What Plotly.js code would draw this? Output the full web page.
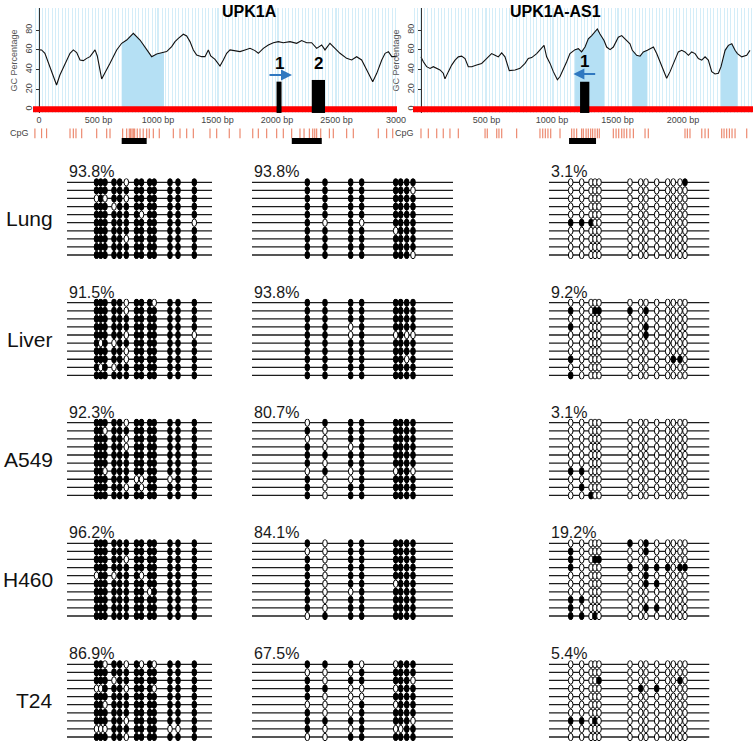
<!DOCTYPE html>
<html><head><meta charset="utf-8">
<script src="https://cdn.plot.ly/plotly-3.0.1.min.js"></script>
<style>html,body{margin:0;padding:0;background:#fff}#chart{width:753px;height:748px}</style>
</head><body><div id="chart"></div>
<script>
// ================= DATA =================
const geneTitles = ["UPK1A", "UPK1A-AS1"];

// GC percentage profile, UPK1A (bp, %)
const gcPosA = [0,22,50,92,120,148,176,218,261,289,317,345,373,401,429,471,490,527,563,597,653,695,737,793,849,905,947,989,1017,1050,1073,1115,1143,1171,1213,1241,1269,1297,1325,1367,1395,1423,1443,1479,1521,1549,1577,1605,1647,1689,1731,1773,1815,1843,1885,1927,1969,2011,2053,2109,2165,2207,2249,2291,2333,2375,2403,2445,2487,2529,2585,2627,2669,2711,2754,2804,2838,2880,2908,2936,2964,3006];
const gcValA = [60,59.9,56.5,43,33,24.5,34.6,44.7,56.5,59.9,57.2,49.8,49.1,51.4,53.1,59.9,53.8,30.6,38,46.4,59.9,66.6,69.9,76.7,69.9,59.9,53.1,55.8,56.5,57.5,58.2,63.2,68.3,71.6,75.7,74,68.3,59.9,54.8,53.1,53.1,59.9,53.8,50.4,43.7,49.8,56.5,59.9,58.8,58.2,59.9,61.5,59.2,56.5,61.5,64.9,67.2,68.3,67.2,68.3,66.6,69.3,67.2,67.2,61.5,64.9,59.9,66.6,61.5,56.5,51.4,49.8,53.1,49.8,39.7,27.9,36.3,49.8,56.5,58.2,53.1,53.1];
// GC percentage profile, UPK1A-AS1
const gcPosB = [0,18,43,69,94,120,145,170,183,209,234,260,285,310,336,361,387,425,463,489,514,539,565,590,616,641,674,718,756,794,819,845,883,908,939,959,985,1010,1041,1061,1086,1112,1137,1163,1176,1201,1226,1252,1277,1303,1328,1346,1366,1397,1417,1443,1468,1506,1532,1557,1595,1613,1646,1672,1697,1728,1774,1799,1824,1850,1875,1901,1926,1964,1990,2015,2041,2066,2092,2117,2143,2168,2193,2219,2244,2270,2290,2321,2346,2372,2397,2415,2448,2486,2511];
const gcValB = [52.9,47.9,43,41.3,43,41.3,39.7,36.4,30.7,38,44.6,49.6,52.9,53.6,51.2,43,43,44.6,46.3,49.6,52.9,56.2,54.5,52.9,56.9,52.9,39,39.7,41.3,46.3,51.2,52.2,56.2,59.5,64.5,52.9,46.3,38,29.8,33.1,39.7,47.9,56.2,59.5,60.2,61.2,57.9,62.8,71.1,74.4,77.7,81,76,69.4,62.8,60.2,62.8,72.7,74.4,71.1,66.1,59.5,54.5,53.6,57.9,59.5,62.8,56.2,47.9,39.7,31.4,38,46.3,57.9,59.5,57.9,54.5,57.9,56.2,51.2,49.6,52.9,49.6,38,35.7,36.4,43,59.5,64.5,66.1,59.5,56.2,52.9,54.5,59.5];

// CpG islands (bp)
const islandStartA = [695];
const islandEndA = [1050];
const islandStartB = [1176, 1613, 2290];
const islandEndB = [1397, 1728, 2415];

// CpG sites (bp)
const cpgSitesA = [-34,22,64,261,289,311,359,485,569,597,703,737,759,770,782,793,804,826,849,876,905,927,961,1011,1129,1185,1241,1297,1437,1493,1599,1689,1796,1843,1913,1997,2053,2123,2193,2227,2272,2300,2317,2333,2367,2440,2473,2585,2641,2851,2921,2972];
const cpgSitesB = [0,56,120,170,221,285,489,506,578,595,616,730,908,929,949,969,990,1061,1150,1168,1188,1226,1239,1260,1277,1295,1310,1328,1346,1361,1468,1489,1509,1532,1550,1570,1595,1621,1710,1735,2015,2033,2053,2143,2168,2193,2295,2313,2333,2354,2374,2397,2486];

// analysed amplicons (bp)
const ampStartA = [695, 2124];
const ampEndA = [905, 2376];
const ampStartB = [1130];
const ampEndB = [1336];

// numbered regions / transcription start markers (bp)
const regionLabelsA = ["1", "2"];
const regionStartA = [1996, 2292];
const regionEndA = [2038, 2403];
const regionLabelsB = ["1"];
const regionStartB = [1214];
const regionEndB = [1285];
const arrowFromA = 1924, arrowToA = 2126;
const arrowFromB = 1341, arrowToB = 1163;

// bisulfite sequencing panels
const samples = ["Lung", "Liver", "A549", "H460", "T24"];
const pctRegion1 = ["93.8%", "91.5%", "92.3%", "96.2%", "86.9%"];
const pctRegion2 = ["93.8%", "93.8%", "80.7%", "84.1%", "67.5%"];
const pctAS1 = ["3.1%", "9.2%", "3.1%", "19.2%", "5.4%"];

// relative CpG positions inside each amplicon, and amplicon lengths
const cpgPosRegion1 = [29.5,33.7,38,47,52.7,59.3,69.5,74.5,82.7,87.2,103,111,127.3];
const cpgPosRegion2 = [55.3,73,98.7,109.7,143.7,148.7,154.7,161];
const cpgPosAS1 = [21.7,32.7,42,46,50,81,91.7,97,107.7,118.7,124.3,131,136];
const ampliconLength = [145, 201, 160.5];

// methylation status per clone (1 = methylated, 0 = unmethylated)
const r1Lung = ["1111101111111","1111111111111","0101101111111","1110111111111","1111111011111","1111111111110","1111111111111","1111101111111","1111111111111","1111111111111"];
const r1Liver = ["1111101110111","1111101111111","1111111111111","1111111111111","1111101111110","1010111111111","1111101111111","1111101111111","1010111111111","1111111111111"];
const r1A549 = ["1111101111111","1101111111111","1111101111111","1111101111111","1111111111111","1111111111111","1101111111111","1111110011011","1111101011111","1111111111111"];
const r1H460 = ["1111111111111","1111111111111","1111101111111","1111111111111","0110111011111","1111111111111","1111111101111","1111111111111","1111111111111","1111111111111"];
const r1T24 = ["1101101010111","1111111111111","1110111111111","0011101110111","1111111111111","1101111111111","1111111111111","1111101111111","0001111111001","1111101111111"];

const r2Lung = ["11111111","11111110","11111111","11111111","11111111","10101111","11110111","11111111","11111111","11111110"];
const r2Liver = ["11111111","11111111","11111111","11011111","11010100","11111111","11111111","11111101","11111111","11111111"];
const r2A549 = ["01111111","10111111","00111111","10011111","11111111","10111111","01010110","10011111","10111111","10111111"];
const r2H460 = ["10111111","00111111","10111111","10111111","10111111","10110111","10011111","10111111","10111111","01111111"];
const r2T24 = ["11100111","00011111","10111110","11000111","10001111","00010111","10011111","11111110","10010011","00111111"];

const as1Lung = ["0000000000001","0000000000000","0000000000000","0000000000000","0000000000000","1110000000000","0000000000000","0000000000000","0000000000000","0000000000000"];
const as1Liver = ["0000000000000","1001110100000","0000000000000","1000000100000","0000000100000","0000000000000","0000000000000","1000000000110","0000000000000","1000000000000"];
const as1A549 = ["0000000000000","0000000000000","0000000000000","0000000000000","0000000000000","0000000000000","1100000000000","0000000000000","0100000000000","0010000000000"];
const as1H460 = ["0000010100000","1000000100000","1001100000000","1000010111011","0000000100000","0000000110000","0000000000000","1100000000000","1000000110000","1101000000000"];
const as1T24 = ["0000000000000","0000000000000","0000100000010","0000001010000","0000000000000","0000000000000","0000000000000","1101000000000","0000000000000","0000000000000"];

// ================= LAYOUT HELPERS =================
const W = 753, H = 748;
const fx = v => v / W;
const fy = v => 1 - v / H;
const FONT = "Arial, 'Liberation Sans', sans-serif";

const panels = [
  [r1Lung, r1Liver, r1A549, r1H460, r1T24],
  [r2Lung, r2Liver, r2A549, r2H460, r2T24],
  [as1Lung, as1Liver, as1A549, as1H460, as1T24]
];
const panelPct = [pctRegion1, pctRegion2, pctAS1];
const panelPos = [cpgPosRegion1, cpgPosRegion2, cpgPosAS1];

const colLeft = [67, 252, 549];
const rowFirstLine = [182.3, 302.7, 422.7, 543.3, 664.3];
const rowStep = 8.08;

const rangeA = [-50, 3008], rangeB = [-61, 2534];
const gcRange = [-3.73, 102.2];
const trackRange = [-1.04, 2.08];

const traces = [];
const shapes = [];
const annotations = [];

function subset(xs, ys, a, b) {
  const X = [], Y = [];
  xs.forEach((x, i) => { if (x >= a && x <= b) { X.push(x); Y.push(ys[i]); } });
  return {X, Y};
}

// island fills
islandStartA.forEach((s, i) => {
  const d = subset(gcPosA, gcValA, s, islandEndA[i]);
  traces.push({x: d.X, y: d.Y, xaxis: 'x', yaxis: 'y', mode: 'lines', fill: 'tozeroy',
    fillcolor: '#b5e0f4', line: {width: 0, color: '#b5e0f4'}, hoverinfo: 'skip', showlegend: false});
});
islandStartB.forEach((s, i) => {
  const d = subset(gcPosB, gcValB, s, islandEndB[i]);
  traces.push({x: d.X, y: d.Y, xaxis: 'x2', yaxis: 'y2', mode: 'lines', fill: 'tozeroy',
    fillcolor: '#b5e0f4', line: {width: 0, color: '#b5e0f4'}, hoverinfo: 'skip', showlegend: false});
});
// GC curves
traces.push({x: gcPosA, y: gcValA, xaxis: 'x', yaxis: 'y', mode: 'lines', line: {color: '#111', width: 1.1}, showlegend: false});
traces.push({x: gcPosB, y: gcValB, xaxis: 'x2', yaxis: 'y2', mode: 'lines', line: {color: '#111', width: 1.1}, showlegend: false});

// CpG tracks
traces.push({x: cpgSitesA, y: cpgSitesA.map(() => 1), xaxis: 'x6', yaxis: 'y3', mode: 'markers', cliponaxis: false,
  marker: {symbol: 'line-ns', size: 7, line: {color: '#ec8a70', width: 1.2}}, showlegend: false});
traces.push({x: cpgSitesB, y: cpgSitesB.map(() => 1), xaxis: 'x7', yaxis: 'y4', mode: 'markers', cliponaxis: false,
  marker: {symbol: 'line-ns', size: 7, line: {color: '#ec8a70', width: 1.2}}, showlegend: false});
// amplicon bars
function segs(st, en) { const X = [], Y = []; st.forEach((s, i) => { X.push(s, en[i], null); Y.push(0, 0, null); }); return {X, Y}; }
const sa = segs(ampStartA, ampEndA), sb = segs(ampStartB, ampEndB);
traces.push({x: sa.X, y: sa.Y, xaxis: 'x6', yaxis: 'y3', mode: 'lines', line: {color: '#000', width: 6}, cliponaxis: false, showlegend: false});
traces.push({x: sb.X, y: sb.Y, xaxis: 'x7', yaxis: 'y4', mode: 'lines', line: {color: '#000', width: 6}, cliponaxis: false, showlegend: false});

// red baselines
shapes.push({type: 'line', xref: 'x', yref: 'y', x0: rangeA[0], x1: rangeA[1], y0: 0, y1: 0, line: {color: '#ff0000', width: 6}});
shapes.push({type: 'line', xref: 'x2', yref: 'y2', x0: rangeB[0], x1: rangeB[1], y0: 0, y1: 0, line: {color: '#ff0000', width: 6}});
// numbered region bars
const regionTopA = [27.9, 29.6], regionTopB = [27.8];
regionStartA.forEach((s, i) => {
  shapes.push({type: 'rect', xref: 'x', yref: 'y', x0: s, x1: regionEndA[i], y0: -3.7, y1: regionTopA[i], fillcolor: '#000', line: {width: 0}});
  annotations.push({xref: 'x', yref: 'y', x: (s + regionEndA[i]) / 2, y: 46, yanchor: 'middle', text: '<b>' + regionLabelsA[i] + '</b>', showarrow: false, font: {size: 17, color: '#000', family: FONT}});
});
regionStartB.forEach((s, i) => {
  shapes.push({type: 'rect', xref: 'x2', yref: 'y2', x0: s, x1: regionEndB[i], y0: -3.7, y1: regionTopB[i], fillcolor: '#000', line: {width: 0}});
  annotations.push({xref: 'x2', yref: 'y2', x: (s + regionEndB[i]) / 2, y: 48, yanchor: 'middle', text: '<b>' + regionLabelsB[i] + '</b>', showarrow: false, font: {size: 17, color: '#000', family: FONT}});
});
// arrows
annotations.push({xref: 'x', yref: 'y', axref: 'x', ayref: 'y', x: arrowToA, y: 34.6, ax: arrowFromA, ay: 34.6, text: '', showarrow: true, arrowhead: 2, arrowsize: 1, arrowwidth: 2.2, arrowcolor: '#2f78c0'});
annotations.push({xref: 'x2', yref: 'y2', axref: 'x2', ayref: 'y2', x: arrowToB, y: 35.6, ax: arrowFromB, ay: 35.6, text: '', showarrow: true, arrowhead: 2, arrowsize: 1, arrowwidth: 2.2, arrowcolor: '#2f78c0'});

// titles
annotations.push({xref: 'paper', yref: 'paper', x: fx(220), y: fy(12), yanchor: 'middle', text: '<b>' + geneTitles[0] + '</b>', showarrow: false, font: {size: 16, color: '#000', family: FONT}});
annotations.push({xref: 'paper', yref: 'paper', x: fx(603), y: fy(12), yanchor: 'middle', text: '<b>' + geneTitles[1] + '</b>', showarrow: false, font: {size: 16, color: '#000', family: FONT}});
// CpG labels
annotations.push({xref: 'paper', yref: 'y3', x: fx(31), xanchor: 'right', y: 1, yanchor: 'middle', text: 'CpG', showarrow: false, font: {size: 9, color: '#444', family: FONT}});
annotations.push({xref: 'paper', yref: 'y4', x: fx(416), xanchor: 'right', y: 1, yanchor: 'middle', text: 'CpG', showarrow: false, font: {size: 9, color: '#444', family: FONT}});

// lollipop panels
const EW = 4.6, EH = 0.92;
for (let c = 0; c < 3; c++) {
  const xa = 'x' + (3 + c);
  for (let r = 0; r < 5; r++) {
    const ya = 'y' + (5 + r);
    traces.push({x: [], y: [], xaxis: xa, yaxis: ya, mode: 'markers', showlegend: false, hoverinfo: 'skip'});
    const pattern = panels[c][r];
    for (let k = 0; k < pattern.length; k++) {
      shapes.push({type: 'line', xref: xa, yref: ya, x0: 0, x1: ampliconLength[c], y0: k + 1, y1: k + 1, line: {color: '#1c1c1c', width: 1.3}});
    }
    for (let k = 0; k < pattern.length; k++) {
      const row = pattern[k];
      panelPos[c].forEach((p, j) => {
        const m = row[j] === '1';
        shapes.push({type: 'circle', xref: xa, yref: ya, x0: p - EW / 2, x1: p + EW / 2, y0: k + 1 - EH / 2, y1: k + 1 + EH / 2,
          fillcolor: m ? '#000' : '#fff', line: {color: '#000', width: 1}});
      });
    }
    annotations.push({xref: xa + ' domain', yref: ya + ' domain', x: 0, y: 1, xanchor: 'left', yanchor: 'bottom', yshift: -4,
      text: panelPct[c][r], showarrow: false, font: {size: 16, color: '#1a1a1a', family: FONT}});
    if (c === 0) {
      annotations.push({xref: 'paper', yref: ya + ' domain', x: fx(55), y: 0.5, xanchor: 'right', yanchor: 'middle',
        text: samples[r], showarrow: false, font: {size: 21, color: '#111', family: FONT}});
    }
  }
}

const gcTickFont = {size: 9, color: '#444', family: FONT};
const GRID = '#d4edf8';
const layout = {
  width: W, height: H,
  margin: {l: 0, r: 0, t: 0, b: 0},
  paper_bgcolor: '#fff', plot_bgcolor: 'rgba(0,0,0,0)',
  font: {family: FONT},
  showlegend: false,
  xaxis: {domain: [fx(33), fx(397)], range: rangeA, anchor: 'y', zeroline: false, showline: false,
    tickmode: 'array', tickvals: [0, 500, 1000, 1500, 2000, 2500, 3000], ticktext: ['0', '500 bp', '1000 bp', '1500 bp', '2000 bp', '2500 bp', '3000'],
    ticks: '', tickfont: gcTickFont, showgrid: true, gridcolor: GRID, gridwidth: 1,
    minor: {tickmode: 'linear', tick0: 0, dtick: 28, showgrid: true, gridcolor: GRID, gridwidth: 1, ticks: ''}},
  yaxis: {domain: [fy(113), fy(8)], range: gcRange, anchor: 'free', position: fx(39), showline: true, linecolor: '#333', linewidth: 1,
    zeroline: false, showgrid: false, tickvals: [0, 20, 40, 60, 80], tickangle: -90, tickfont: gcTickFont, ticks: 'outside', ticklen: 3, tickcolor: '#333',
    title: {text: 'GC Percentage', font: {size: 9, color: '#555', family: FONT}, standoff: 4}},
  xaxis2: {domain: [fx(413), 1], range: rangeB, anchor: 'y2', zeroline: false, showline: false,
    tickmode: 'array', tickvals: [500, 1000, 1500, 2000, 2500], ticktext: ['500 bp', '1000 bp', '1500 bp', '2000 bp', '2500 bp'],
    ticks: '', tickfont: gcTickFont, showgrid: true, gridcolor: GRID, gridwidth: 1,
    minor: {tickmode: 'linear', tick0: 0, dtick: 26, showgrid: true, gridcolor: GRID, gridwidth: 1, ticks: ''}},
  yaxis2: {domain: [fy(113), fy(8)], range: gcRange, anchor: 'free', position: fx(421), showline: true, linecolor: '#333', linewidth: 1,
    zeroline: false, showgrid: false, tickvals: [0, 20, 40, 60, 80], tickangle: -90, tickfont: gcTickFont, ticks: 'outside', ticklen: 3, tickcolor: '#333',
    title: {text: 'GC Percentage', font: {size: 9, color: '#555', family: FONT}, standoff: 4}},
  xaxis6: {domain: [fx(33), fx(397)], range: rangeA, anchor: 'y3', visible: false},
  xaxis7: {domain: [fx(413), 1], range: rangeB, anchor: 'y4', visible: false},
  yaxis3: {domain: [fy(149), fy(125)], range: trackRange, anchor: 'x6', visible: false},
  yaxis4: {domain: [fy(149), fy(125)], range: trackRange, anchor: 'x7', visible: false},
  shapes: shapes,
  annotations: annotations
};
for (let c = 0; c < 3; c++) {
  layout['xaxis' + (3 + c)] = {domain: [fx(colLeft[c]), fx(colLeft[c] + ampliconLength[c])], range: [0, ampliconLength[c]], anchor: 'y5', visible: false};
}
for (let r = 0; r < 5; r++) {
  const top = rowFirstLine[r] - rowStep / 2;
  layout['yaxis' + (5 + r)] = {domain: [fy(top + rowStep * 10), fy(top)], range: [10.5, 0.5], anchor: 'x3', visible: false};
}

Plotly.newPlot('chart', traces, layout, {staticPlot: true, displayModeBar: false});
</script>
</body></html>
